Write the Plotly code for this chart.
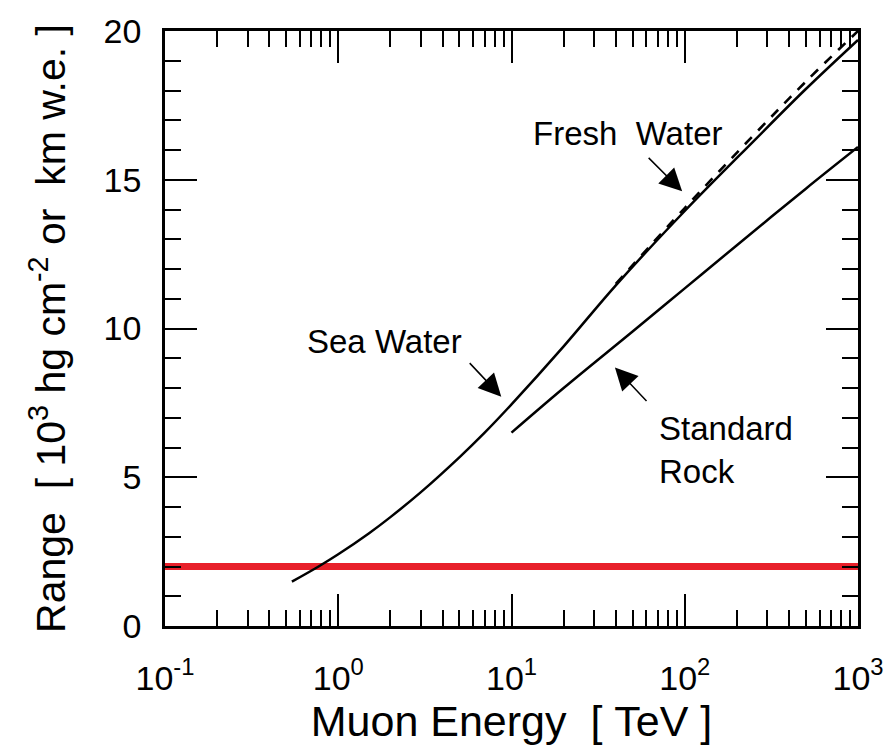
import plotly.graph_objects as go

# ---- data ----
sea_E = [0.54, 0.77, 1.0, 1.5, 2.0, 3.0, 5.0, 7.0, 10, 20, 40, 100, 250, 500, 1000]
sea_R = [1.49, 2.0, 2.41, 3.11, 3.66, 4.5, 5.67, 6.5, 7.45, 9.4, 11.45, 13.95, 16.3, 18.05, 19.7]

fresh_E = [40, 100, 250, 500, 1000]
fresh_R = [11.5, 14.05, 16.5, 18.3, 20.0]

rock_E = [10, 20, 50, 100, 200, 500, 1000]
rock_R = [6.5, 8.0, 9.9, 11.35, 12.8, 14.7, 16.1]

ref_E = [0.1, 1000]
ref_R = [2, 2]

x_ticks = [0.1, 1, 10, 100, 1000]
x_ticktext = ["10<sup>-1</sup>", "10<sup>0</sup>", "10<sup>1</sup>", "10<sup>2</sup>", "10<sup>3</sup>"]
x_minor = [m * 10.0 ** d for d in range(-1, 3) for m in range(2, 10)]
y_ticks = [0, 5, 10, 15, 20]
y_minor = [v for v in range(0, 21) if v % 5]

FONT = "Liberation Sans, Arial, Helvetica, sans-serif"
NB = "\u00a0"

fig = go.Figure()
fig.add_trace(go.Scatter(x=ref_E, y=ref_R, mode="lines",
                         line=dict(color="#e8202a", width=7), showlegend=False))
fig.add_trace(go.Scatter(x=fresh_E, y=fresh_R, mode="lines", line_shape="spline",
                         line=dict(color="black", width=2.6, dash="10px,9px"), showlegend=False))
fig.add_trace(go.Scatter(x=sea_E, y=sea_R, mode="lines", line_shape="spline",
                         line=dict(color="black", width=2.5), showlegend=False))
fig.add_trace(go.Scatter(x=rock_E, y=rock_R, mode="lines", line_shape="spline",
                         line=dict(color="black", width=2.5), showlegend=False))

# arrows (positions in log10 units for the log x axis)
arrow_style = dict(showarrow=True, arrowhead=2, arrowsize=3.0, arrowwidth=1.5,
                   arrowcolor="black", text="", standoff=0)
fig.add_annotation(x=1.985, y=14.61, xref="x", yref="y", ax=-35, ay=-35, **arrow_style)
fig.add_annotation(x=0.941, y=7.71, xref="x", yref="y", ax=-33, ay=-35, **arrow_style)
fig.add_annotation(x=1.597, y=8.69, xref="x", yref="y", ax=33, ay=35, **arrow_style)

# labels
lab_font = dict(family=FONT, size=33, color="black")
fig.add_annotation(x=1.671, y=16.57, xref="x", yref="y", text="Fresh" + NB + NB + "Water",
                   showarrow=False, font=lab_font, xanchor="center", yanchor="middle")
fig.add_annotation(x=0.267, y=9.56, xref="x", yref="y", text="Sea Water",
                   showarrow=False, font=lab_font, xanchor="center", yanchor="middle")
fig.add_annotation(x=1.837, y=5.93, xref="x", yref="y", text="Standard<br>Rock",
                   showarrow=False, font=lab_font, xanchor="left", yanchor="middle", align="left")

axis_common = dict(showline=True, linecolor="black", linewidth=2.5, mirror="ticks",
                   ticks="inside", ticklen=32, tickwidth=2.2, tickcolor="black",
                   showgrid=False, zeroline=False,
                   tickfont=dict(family=FONT, size=34, color="black"))

fig.update_xaxes(type="log", range=[-1, 3], tickvals=x_ticks, ticktext=x_ticktext,
                 minor=dict(tickvals=x_minor, ticks="inside", ticklen=16, tickwidth=2,
                            tickcolor="black", showgrid=False),
                 ticklabelstandoff=20,
                 title=dict(text="Muon" + NB + "Energy" + NB + NB + "[" + NB + "TeV" + NB + "]",
                            font=dict(family=FONT, size=43, color="black"), standoff=8),
                 **axis_common)
fig.update_yaxes(range=[0, 20], tickvals=y_ticks,
                 minor=dict(tickvals=y_minor, ticks="inside", ticklen=16, tickwidth=2,
                            tickcolor="black", showgrid=False),
                 ticklabelstandoff=14,
                 title=dict(text="Range" + NB + NB + "[" + NB + "10<sup>3</sup>" + NB + "hg" + NB + "cm<sup>-2</sup>"
                            + NB + "or" + NB + NB + "km" + NB + "w.e." + NB + "]",
                            font=dict(family=FONT, size=41, color="black"), standoff=26),
                 **axis_common)

fig.update_layout(width=896, height=753, plot_bgcolor="white", paper_bgcolor="white",
                  margin=dict(l=165, r=30, t=31, b=127), showlegend=False)

fig.write_html("out.html")
